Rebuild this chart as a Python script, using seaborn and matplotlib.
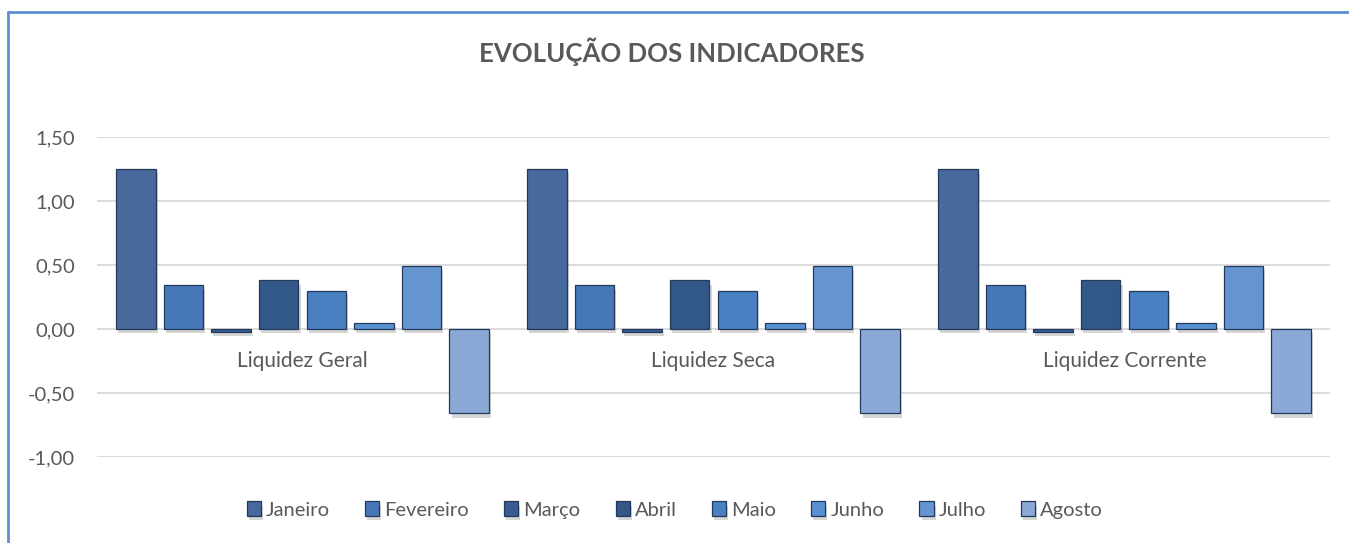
import numpy as np
import pandas as pd
import matplotlib
matplotlib.use("Agg")
import matplotlib.pyplot as plt
import matplotlib.patheffects as pe
from matplotlib.lines import Line2D
import seaborn as sns

categories = ["Liquidez Geral", "Liquidez Seca", "Liquidez Corrente"]
months = ["Janeiro", "Fevereiro", "Março", "Abril", "Maio", "Junho", "Julho", "Agosto"]
values_geral = [1.25, 0.34, -0.02, 0.38, 0.30, 0.05, 0.49, -0.66]
values_seca = [1.25, 0.34, -0.02, 0.38, 0.30, 0.05, 0.49, -0.66]
values_corrente = [1.25, 0.34, -0.02, 0.38, 0.30, 0.05, 0.49, -0.66]
colors = ["#47699b", "#4677b6", "#385d93", "#315888", "#4a80c2", "#5890d2", "#6595d0", "#8ca8d6"]
yticks = [-1.0, -0.5, 0.0, 0.5, 1.0, 1.5]

rows = []
for cat, vals in zip(categories, [values_geral, values_seca, values_corrente]):
    for m, v in zip(months, vals):
        rows.append({"Indicador": cat, "Mês": m, "Valor": v})
df = pd.DataFrame(rows)

sns.set_theme(style="white")
plt.rcParams["font.family"] = ["Lato", "DejaVu Sans"]

fig = plt.figure(figsize=(13.49, 5.43), dpi=100)
ax = fig.add_axes([97 / 1349, 1 - 457 / 543, (1330 - 97) / 1349, (457 - 137) / 543])

sns.barplot(data=df, x="Indicador", y="Valor", hue="Mês", order=categories,
            hue_order=months, palette=colors, saturation=1, width=0.927, gap=0.17,
            edgecolor="#22395c", linewidth=0.9, ax=ax, legend=True, zorder=3)

for p in ax.patches:
    p.set_path_effects([pe.SimplePatchShadow(offset=(1.5, -3), shadow_rgbFace="#9a9a9a", alpha=0.4), pe.Normal()])

ax.set_ylim(-1.0, 1.5)
ax.set_xlim(-0.5, 2.5)
ax.set_yticks(yticks)
ax.set_yticklabels([f"{t:.2f}".replace(".", ",") for t in yticks], fontsize=14.5, color="#595959")
ax.tick_params(axis="y", length=0, pad=16)
for lbl in ax.get_yticklabels():
    lbl.set_horizontalalignment("right")
ax.yaxis.grid(True, color="#d9d9d9", linewidth=1.3, zorder=0)
ax.set_axisbelow(True)
ax.set_xticks([])
ax.set_xlabel("")
ax.set_ylabel("")
for s in ax.spines.values():
    s.set_visible(False)

for i, cat in enumerate(categories):
    ax.text(i, -0.25, cat, ha="center", va="center", fontsize=15, color="#595959")

handles, labels = ax.get_legend_handles_labels()
ax.legend_.remove()
leg = fig.legend(handles, labels, loc="center", bbox_to_anchor=(675 / 1349, 1 - 510 / 543),
                 ncol=8, frameon=False, fontsize=14.5, handlelength=0.7, handleheight=0.7,
                 handletextpad=0.25, columnspacing=1.75, labelcolor="#595959")

fig.text(672 / 1349, 1 - 52 / 543, "EVOLUÇÃO DOS INDICADORES", ha="center", va="center",
         fontsize=18.5, fontweight="bold", color="#595959")

fig.add_artist(Line2D([8 / 1349, 8 / 1349], [0, 1 - 12 / 543], transform=fig.transFigure,
                      color="#5b8fd4", linewidth=2))
fig.add_artist(Line2D([8 / 1349, 1], [1 - 12 / 543, 1 - 12 / 543], transform=fig.transFigure,
                      color="#5b8fd4", linewidth=2))

fig.savefig("out.png", dpi=100)
